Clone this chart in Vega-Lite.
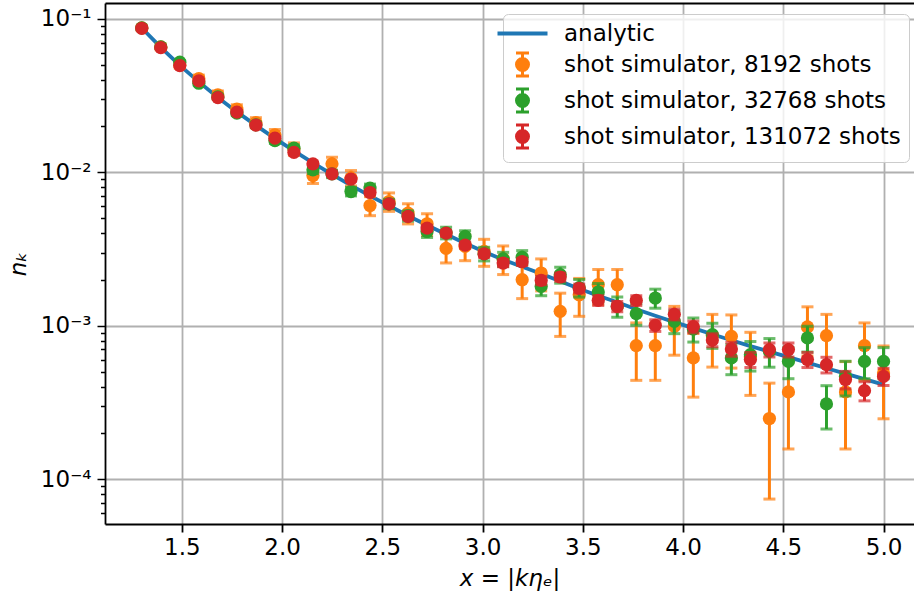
{
  "$schema": "https://vega.github.io/schema/vega-lite/v6.json",
  "width": 809,
  "height": 521,
  "autosize": {"type": "none"},
  "padding": {"left": 105, "top": 3, "right": 0, "bottom": 70},
  "background": "white",
  "config": {
    "view": {"stroke": null},
    "font": "DejaVu Sans"
  },
  "datasets": {
    "analytic": [
      {"x": 1.3, "y": 0.08737, "series": "analytic"},
      {"x": 1.39487, "y": 0.06522, "series": "analytic"},
      {"x": 1.48974, "y": 0.0498, "series": "analytic"},
      {"x": 1.58462, "y": 0.03887, "series": "analytic"},
      {"x": 1.67949, "y": 0.0308, "series": "analytic"},
      {"x": 1.77436, "y": 0.02477, "series": "analytic"},
      {"x": 1.86923, "y": 0.02024, "series": "analytic"},
      {"x": 1.9641, "y": 0.01665, "series": "analytic"},
      {"x": 2.05897, "y": 0.0138, "series": "analytic"},
      {"x": 2.15385, "y": 0.01153, "series": "analytic"},
      {"x": 2.24872, "y": 0.009705, "series": "analytic"},
      {"x": 2.34359, "y": 0.008228, "series": "analytic"},
      {"x": 2.43846, "y": 0.007028, "series": "analytic"},
      {"x": 2.53333, "y": 0.006049, "series": "analytic"},
      {"x": 2.62821, "y": 0.005206, "series": "analytic"},
      {"x": 2.72308, "y": 0.004516, "series": "analytic"},
      {"x": 2.81795, "y": 0.003945, "series": "analytic"},
      {"x": 2.91282, "y": 0.003447, "series": "analytic"},
      {"x": 3.00769, "y": 0.003034, "series": "analytic"},
      {"x": 3.10256, "y": 0.002692, "series": "analytic"},
      {"x": 3.19744, "y": 0.002423, "series": "analytic"},
      {"x": 3.29231, "y": 0.002182, "series": "analytic"},
      {"x": 3.38718, "y": 0.00195, "series": "analytic"},
      {"x": 3.48205, "y": 0.001742, "series": "analytic"},
      {"x": 3.57692, "y": 0.001568, "series": "analytic"},
      {"x": 3.67179, "y": 0.001422, "series": "analytic"},
      {"x": 3.76667, "y": 0.001281, "series": "analytic"},
      {"x": 3.86154, "y": 0.001162, "series": "analytic"},
      {"x": 3.95641, "y": 0.001054, "series": "analytic"},
      {"x": 4.05128, "y": 0.000963, "series": "analytic"},
      {"x": 4.14615, "y": 0.00088, "series": "analytic"},
      {"x": 4.24103, "y": 0.000804, "series": "analytic"},
      {"x": 4.3359, "y": 0.000735, "series": "analytic"},
      {"x": 4.43077, "y": 0.000677, "series": "analytic"},
      {"x": 4.52564, "y": 0.000623, "series": "analytic"},
      {"x": 4.62051, "y": 0.000574, "series": "analytic"},
      {"x": 4.71538, "y": 0.000528, "series": "analytic"},
      {"x": 4.81026, "y": 0.000487, "series": "analytic"},
      {"x": 4.90513, "y": 0.000448, "series": "analytic"},
      {"x": 5.0, "y": 0.000413, "series": "analytic"}
    ],
    "s8192": [
      {"x": 1.3, "y": 0.0874, "err": 0.00327, "series": "shot simulator, 8192 shots"},
      {"x": 1.39487, "y": 0.0657, "err": 0.00283, "series": "shot simulator, 8192 shots"},
      {"x": 1.48974, "y": 0.05017, "err": 0.00248, "series": "shot simulator, 8192 shots"},
      {"x": 1.58462, "y": 0.04083, "err": 0.00223, "series": "shot simulator, 8192 shots"},
      {"x": 1.67949, "y": 0.03198, "err": 0.00198, "series": "shot simulator, 8192 shots"},
      {"x": 1.77436, "y": 0.0258, "err": 0.00178, "series": "shot simulator, 8192 shots"},
      {"x": 1.86923, "y": 0.0211, "err": 0.00161, "series": "shot simulator, 8192 shots"},
      {"x": 1.9641, "y": 0.01755, "err": 0.00146, "series": "shot simulator, 8192 shots"},
      {"x": 2.05897, "y": 0.01423, "err": 0.00132, "series": "shot simulator, 8192 shots"},
      {"x": 2.15385, "y": 0.009532, "err": 0.00108, "series": "shot simulator, 8192 shots"},
      {"x": 2.24872, "y": 0.01136, "err": 0.00118, "series": "shot simulator, 8192 shots"},
      {"x": 2.34359, "y": 0.009209, "err": 0.00106, "series": "shot simulator, 8192 shots"},
      {"x": 2.43846, "y": 0.006076, "err": 0.000861, "series": "shot simulator, 8192 shots"},
      {"x": 2.53333, "y": 0.006451, "err": 0.000887, "series": "shot simulator, 8192 shots"},
      {"x": 2.62821, "y": 0.005423, "err": 0.000814, "series": "shot simulator, 8192 shots"},
      {"x": 2.72308, "y": 0.004618, "err": 0.000751, "series": "shot simulator, 8192 shots"},
      {"x": 2.81795, "y": 0.003189, "err": 0.000624, "series": "shot simulator, 8192 shots"},
      {"x": 2.91282, "y": 0.003286, "err": 0.000633, "series": "shot simulator, 8192 shots"},
      {"x": 3.00769, "y": 0.003048, "err": 0.00061, "series": "shot simulator, 8192 shots"},
      {"x": 3.10256, "y": 0.002732, "err": 0.000578, "series": "shot simulator, 8192 shots"},
      {"x": 3.19744, "y": 0.001994, "err": 0.000493, "series": "shot simulator, 8192 shots"},
      {"x": 3.29231, "y": 0.002205, "err": 0.000519, "series": "shot simulator, 8192 shots"},
      {"x": 3.38718, "y": 0.00124, "err": 0.000389, "series": "shot simulator, 8192 shots"},
      {"x": 3.48205, "y": 0.001592, "err": 0.000441, "series": "shot simulator, 8192 shots"},
      {"x": 3.57692, "y": 0.00185, "err": 0.000475, "series": "shot simulator, 8192 shots"},
      {"x": 3.67179, "y": 0.00185, "err": 0.000475, "series": "shot simulator, 8192 shots"},
      {"x": 3.76667, "y": 0.000741, "err": 0.000301, "series": "shot simulator, 8192 shots"},
      {"x": 3.86154, "y": 0.000741, "err": 0.000301, "series": "shot simulator, 8192 shots"},
      {"x": 3.95641, "y": 0.000989, "err": 0.000347, "series": "shot simulator, 8192 shots"},
      {"x": 4.05128, "y": 0.000616, "err": 0.000274, "series": "shot simulator, 8192 shots"},
      {"x": 4.14615, "y": 0.000861, "err": 0.000324, "series": "shot simulator, 8192 shots"},
      {"x": 4.24103, "y": 0.000852, "err": 0.000323, "series": "shot simulator, 8192 shots"},
      {"x": 4.3359, "y": 0.000628, "err": 0.000277, "series": "shot simulator, 8192 shots"},
      {"x": 4.43077, "y": 0.000248, "err": 0.000174, "series": "shot simulator, 8192 shots"},
      {"x": 4.52564, "y": 0.00037, "err": 0.000213, "series": "shot simulator, 8192 shots"},
      {"x": 4.62051, "y": 0.000981, "err": 0.000346, "series": "shot simulator, 8192 shots"},
      {"x": 4.71538, "y": 0.000861, "err": 0.000324, "series": "shot simulator, 8192 shots"},
      {"x": 4.81026, "y": 0.00037, "err": 0.000213, "series": "shot simulator, 8192 shots"},
      {"x": 4.90513, "y": 0.000741, "err": 0.000301, "series": "shot simulator, 8192 shots"},
      {"x": 5.0, "y": 0.000492, "err": 0.000245, "series": "shot simulator, 8192 shots"}
    ],
    "s32768": [
      {"x": 1.3, "y": 0.0874, "err": 0.00163, "series": "shot simulator, 32768 shots"},
      {"x": 1.39487, "y": 0.0657, "err": 0.00142, "series": "shot simulator, 32768 shots"},
      {"x": 1.48974, "y": 0.05223, "err": 0.00126, "series": "shot simulator, 32768 shots"},
      {"x": 1.58462, "y": 0.03812, "err": 0.00108, "series": "shot simulator, 32768 shots"},
      {"x": 1.67949, "y": 0.03103, "err": 0.000973, "series": "shot simulator, 32768 shots"},
      {"x": 1.77436, "y": 0.0243, "err": 0.000861, "series": "shot simulator, 32768 shots"},
      {"x": 1.86923, "y": 0.02039, "err": 0.000789, "series": "shot simulator, 32768 shots"},
      {"x": 1.9641, "y": 0.01611, "err": 0.000701, "series": "shot simulator, 32768 shots"},
      {"x": 2.05897, "y": 0.01438, "err": 0.000662, "series": "shot simulator, 32768 shots"},
      {"x": 2.15385, "y": 0.01038, "err": 0.000563, "series": "shot simulator, 32768 shots"},
      {"x": 2.24872, "y": 0.009777, "err": 0.000546, "series": "shot simulator, 32768 shots"},
      {"x": 2.34359, "y": 0.007496, "err": 0.000478, "series": "shot simulator, 32768 shots"},
      {"x": 2.43846, "y": 0.007889, "err": 0.000491, "series": "shot simulator, 32768 shots"},
      {"x": 2.53333, "y": 0.006233, "err": 0.000436, "series": "shot simulator, 32768 shots"},
      {"x": 2.62821, "y": 0.005206, "err": 0.000399, "series": "shot simulator, 32768 shots"},
      {"x": 2.72308, "y": 0.004114, "err": 0.000354, "series": "shot simulator, 32768 shots"},
      {"x": 2.81795, "y": 0.004034, "err": 0.000351, "series": "shot simulator, 32768 shots"},
      {"x": 2.91282, "y": 0.003817, "err": 0.000341, "series": "shot simulator, 32768 shots"},
      {"x": 3.00769, "y": 0.002944, "err": 0.0003, "series": "shot simulator, 32768 shots"},
      {"x": 3.10256, "y": 0.002719, "err": 0.000288, "series": "shot simulator, 32768 shots"},
      {"x": 3.19744, "y": 0.002794, "err": 0.000292, "series": "shot simulator, 32768 shots"},
      {"x": 3.29231, "y": 0.001803, "err": 0.000235, "series": "shot simulator, 32768 shots"},
      {"x": 3.38718, "y": 0.002149, "err": 0.000256, "series": "shot simulator, 32768 shots"},
      {"x": 3.48205, "y": 0.001768, "err": 0.000232, "series": "shot simulator, 32768 shots"},
      {"x": 3.57692, "y": 0.001658, "err": 0.000225, "series": "shot simulator, 32768 shots"},
      {"x": 3.67179, "y": 0.001335, "err": 0.000202, "series": "shot simulator, 32768 shots"},
      {"x": 3.76667, "y": 0.001197, "err": 0.000191, "series": "shot simulator, 32768 shots"},
      {"x": 3.86154, "y": 0.001515, "err": 0.000215, "series": "shot simulator, 32768 shots"},
      {"x": 3.95641, "y": 0.001067, "err": 0.00018, "series": "shot simulator, 32768 shots"},
      {"x": 4.05128, "y": 0.000952, "err": 0.00017, "series": "shot simulator, 32768 shots"},
      {"x": 4.14615, "y": 0.000874, "err": 0.000163, "series": "shot simulator, 32768 shots"},
      {"x": 4.24103, "y": 0.000616, "err": 0.000137, "series": "shot simulator, 32768 shots"},
      {"x": 4.3359, "y": 0.000647, "err": 0.000141, "series": "shot simulator, 32768 shots"},
      {"x": 4.43077, "y": 0.00068, "err": 0.000144, "series": "shot simulator, 32768 shots"},
      {"x": 4.52564, "y": 0.000585, "err": 0.000134, "series": "shot simulator, 32768 shots"},
      {"x": 4.62051, "y": 0.000832, "err": 0.000159, "series": "shot simulator, 32768 shots"},
      {"x": 4.71538, "y": 0.000309, "err": 0.0000971, "series": "shot simulator, 32768 shots"},
      {"x": 4.81026, "y": 0.000467, "err": 0.000119, "series": "shot simulator, 32768 shots"},
      {"x": 4.90513, "y": 0.000585, "err": 0.000134, "series": "shot simulator, 32768 shots"},
      {"x": 5.0, "y": 0.000585, "err": 0.000134, "series": "shot simulator, 32768 shots"}
    ],
    "s131072": [
      {"x": 1.3, "y": 0.08696, "err": 0.000815, "series": "shot simulator, 131072 shots"},
      {"x": 1.39487, "y": 0.06501, "err": 0.000704, "series": "shot simulator, 131072 shots"},
      {"x": 1.48974, "y": 0.04964, "err": 0.000615, "series": "shot simulator, 131072 shots"},
      {"x": 1.58462, "y": 0.03945, "err": 0.000549, "series": "shot simulator, 131072 shots"},
      {"x": 1.67949, "y": 0.03071, "err": 0.000484, "series": "shot simulator, 131072 shots"},
      {"x": 1.77436, "y": 0.02467, "err": 0.000434, "series": "shot simulator, 131072 shots"},
      {"x": 1.86923, "y": 0.0203, "err": 0.000394, "series": "shot simulator, 131072 shots"},
      {"x": 1.9641, "y": 0.0167, "err": 0.000357, "series": "shot simulator, 131072 shots"},
      {"x": 2.05897, "y": 0.0135, "err": 0.000321, "series": "shot simulator, 131072 shots"},
      {"x": 2.15385, "y": 0.01136, "err": 0.000294, "series": "shot simulator, 131072 shots"},
      {"x": 2.24872, "y": 0.009777, "err": 0.000273, "series": "shot simulator, 131072 shots"},
      {"x": 2.34359, "y": 0.00903, "err": 0.000262, "series": "shot simulator, 131072 shots"},
      {"x": 2.43846, "y": 0.007385, "err": 0.000237, "series": "shot simulator, 131072 shots"},
      {"x": 2.53333, "y": 0.006233, "err": 0.000218, "series": "shot simulator, 131072 shots"},
      {"x": 2.62821, "y": 0.005153, "err": 0.000198, "series": "shot simulator, 131072 shots"},
      {"x": 2.72308, "y": 0.00433, "err": 0.000182, "series": "shot simulator, 131072 shots"},
      {"x": 2.81795, "y": 0.004016, "err": 0.000175, "series": "shot simulator, 131072 shots"},
      {"x": 2.91282, "y": 0.003355, "err": 0.00016, "series": "shot simulator, 131072 shots"},
      {"x": 3.00769, "y": 0.002936, "err": 0.00015, "series": "shot simulator, 131072 shots"},
      {"x": 3.10256, "y": 0.002562, "err": 0.00014, "series": "shot simulator, 131072 shots"},
      {"x": 3.19744, "y": 0.002612, "err": 0.000141, "series": "shot simulator, 131072 shots"},
      {"x": 3.29231, "y": 0.001973, "err": 0.000123, "series": "shot simulator, 131072 shots"},
      {"x": 3.38718, "y": 0.002077, "err": 0.000126, "series": "shot simulator, 131072 shots"},
      {"x": 3.48205, "y": 0.00175, "err": 0.000116, "series": "shot simulator, 131072 shots"},
      {"x": 3.57692, "y": 0.001461, "err": 0.000106, "series": "shot simulator, 131072 shots"},
      {"x": 3.67179, "y": 0.001335, "err": 0.000101, "series": "shot simulator, 131072 shots"},
      {"x": 3.76667, "y": 0.001461, "err": 0.000106, "series": "shot simulator, 131072 shots"},
      {"x": 3.86154, "y": 0.001005, "err": 0.0000876, "series": "shot simulator, 131072 shots"},
      {"x": 3.95641, "y": 0.001185, "err": 0.0000951, "series": "shot simulator, 131072 shots"},
      {"x": 4.05128, "y": 0.000985, "err": 0.0000867, "series": "shot simulator, 131072 shots"},
      {"x": 4.14615, "y": 0.000807, "err": 0.0000785, "series": "shot simulator, 131072 shots"},
      {"x": 4.24103, "y": 0.000705, "err": 0.0000733, "series": "shot simulator, 131072 shots"},
      {"x": 4.3359, "y": 0.000601, "err": 0.0000677, "series": "shot simulator, 131072 shots"},
      {"x": 4.43077, "y": 0.000698, "err": 0.000073, "series": "shot simulator, 131072 shots"},
      {"x": 4.52564, "y": 0.000698, "err": 0.000073, "series": "shot simulator, 131072 shots"},
      {"x": 4.62051, "y": 0.000601, "err": 0.0000677, "series": "shot simulator, 131072 shots"},
      {"x": 4.71538, "y": 0.000557, "err": 0.0000652, "series": "shot simulator, 131072 shots"},
      {"x": 4.81026, "y": 0.000445, "err": 0.0000583, "series": "shot simulator, 131072 shots"},
      {"x": 4.90513, "y": 0.000377, "err": 0.0000536, "series": "shot simulator, 131072 shots"},
      {"x": 5.0, "y": 0.000467, "err": 0.0000597, "series": "shot simulator, 131072 shots"}
    ]
  },
  "resolve": {"axis": {"x": "independent"}},
  "layer": [
    {
      "data": {"name": "analytic"},
      "mark": {"type": "line", "strokeWidth": 3.8},
      "encoding": {
        "x": {
          "field": "x", "type": "quantitative",
          "scale": {"domain": [1.1165, 5.152], "nice": false, "zero": false},
          "axis": {
            "orient": "bottom",
            "values": [1.5, 2.0, 2.5, 3.0, 3.5, 4.0, 4.5, 5.0],
            "format": ".1f",
            "title": "x = |kηₑ|",
            "titleFont": "DejaVu Sans", "titleFontSize": 23, "titleFontStyle": "italic", "titleFontWeight": "normal", "titleColor": "black", "titlePadding": 8,
            "labelFont": "DejaVu Sans", "labelFontSize": 23, "labelColor": "black", "labelPadding": 4,
            "labelFlush": false, "labelOverlap": false,
            "grid": true, "gridColor": "#b0b0b0", "gridWidth": 1.8,
            "ticks": true, "tickSize": 8, "tickWidth": 1.8, "tickColor": "black",
            "domain": true, "domainColor": "black", "domainWidth": 1.8
          }
        },
        "y": {
          "field": "y", "type": "quantitative", "title": "nₖ",
          "scale": {"type": "log", "domain": [0.0000509, 0.1271], "nice": false},
          "axis": {
            "orient": "left",
            "values": [0.00006, 0.00007, 0.00008, 0.00009, 0.0001, 0.0002, 0.0003, 0.0004, 0.0005, 0.0006, 0.0007, 0.0008, 0.0009, 0.001, 0.002, 0.003, 0.004, 0.005, 0.006, 0.007, 0.008, 0.009, 0.01, 0.02, 0.03, 0.04, 0.05, 0.06, 0.07, 0.08, 0.09, 0.1],
            "labelExpr": "datum.value == 0.1 ? '10⁻¹' : datum.value == 0.01 ? '10⁻²' : datum.value == 0.001 ? '10⁻³' : datum.value == 0.0001 ? '10⁻⁴' : ''",
            "title": "nₖ",
            "titleFont": "DejaVu Sans", "titleFontSize": 23, "titleFontStyle": "italic", "titleFontWeight": "normal", "titleColor": "black", "titlePadding": 10,
            "labelFont": "DejaVu Sans", "labelFontSize": 23, "labelColor": "black", "labelPadding": 6,
            "labelFlush": false, "labelOverlap": false, "labelBound": false,
            "grid": true, "gridColor": "#b0b0b0", "gridWidth": 1.8,
            "gridOpacity": {"condition": {"test": "datum.value == 0.1 || datum.value == 0.01 || datum.value == 0.001 || datum.value == 0.0001", "value": 1}, "value": 0},
            "ticks": true,
            "tickSize": {"condition": {"test": "datum.value == 0.1 || datum.value == 0.01 || datum.value == 0.001 || datum.value == 0.0001", "value": 8}, "value": 4.5},
            "tickWidth": 1.5, "tickColor": "black",
            "domain": true, "domainColor": "black", "domainWidth": 1.8
          }
        },
        "color": {
          "field": "series", "type": "nominal",
          "scale": {
            "domain": ["analytic", "shot simulator, 8192 shots", "shot simulator, 32768 shots", "shot simulator, 131072 shots"],
            "range": ["#1f77b4", "#ff7f0e", "#2ca02c", "#d62728"]
          },
          "legend": {
            "title": null,
            "orient": "none",
            "legendX": 398,
            "legendY": 11,
            "labelFont": "DejaVu Sans", "labelFontSize": 23, "labelColor": "black", "labelLimit": 600,
            "labelOffset": 30,
            "fillColor": "rgba(255,255,255,0.8)", "strokeColor": "#cccccc", "cornerRadius": 5,
            "padding": 8, "rowPadding": 1,
            "symbolSize": 400,
            "encode": {
              "symbols": {
                "update": {
                  "shape": {"signal": "datum.value === 'analytic' ? 'M-2.5,0H2.5' : 'M0.6,0A0.6,0.6,0,1,1,-0.6,0A0.6,0.6,0,1,1,0.6,0ZM0,-1.15V1.15M-0.65,-1.15H0.65M-0.65,1.15H0.65'"},
                  "size": {"value": 400},
                  "stroke": {"signal": "scale('color', datum.value)"},
                  "fill": {"signal": "datum.value === 'analytic' ? 'transparent' : scale('color', datum.value)"},
                  "strokeWidth": {"signal": "datum.value === 'analytic' ? 4 : 3"},
                  "opacity": {"value": 1},
                  "fillOpacity": {"value": 1},
                  "strokeOpacity": {"value": 1}
                }
              }
            }
          }
        }
      }
    },
    {
      "data": {"name": "s8192"},
      "mark": {"type": "errorbar", "color": "#ff7f0e", "thickness": 3, "ticks": {"size": 12, "thickness": 3, "color": "#ff7f0e"}},
      "encoding": {
        "x": {"field": "x", "type": "quantitative", "axis": null},
        "y": {"field": "y", "type": "quantitative", "title": "nₖ", "scale": {"type": "log", "domain": [0.0000509, 0.1271], "nice": false}},
        "yError": {"field": "err"}
      }
    },
    {
      "data": {"name": "s8192"},
      "mark": {"type": "circle", "size": 175, "opacity": 1},
      "encoding": {
        "x": {"field": "x", "type": "quantitative", "axis": {"orient": "top", "labels": false, "ticks": false, "grid": false, "title": null, "domain": true, "domainColor": "black", "domainWidth": 1.8}},
        "y": {"field": "y", "type": "quantitative", "title": "nₖ", "scale": {"type": "log", "domain": [0.0000509, 0.1271], "nice": false}},
        "color": {"field": "series", "type": "nominal"}
      }
    },
    {
      "data": {"name": "s32768"},
      "mark": {"type": "errorbar", "color": "#2ca02c", "thickness": 3, "ticks": {"size": 12, "thickness": 3, "color": "#2ca02c"}},
      "encoding": {
        "x": {"field": "x", "type": "quantitative", "axis": null},
        "y": {"field": "y", "type": "quantitative", "title": "nₖ", "scale": {"type": "log", "domain": [0.0000509, 0.1271], "nice": false}},
        "yError": {"field": "err"}
      }
    },
    {
      "data": {"name": "s32768"},
      "mark": {"type": "circle", "size": 175, "opacity": 1},
      "encoding": {
        "x": {"field": "x", "type": "quantitative", "axis": null},
        "y": {"field": "y", "type": "quantitative", "title": "nₖ", "scale": {"type": "log", "domain": [0.0000509, 0.1271], "nice": false}},
        "color": {"field": "series", "type": "nominal"}
      }
    },
    {
      "data": {"name": "s131072"},
      "mark": {"type": "errorbar", "color": "#d62728", "thickness": 3, "ticks": {"size": 12, "thickness": 3, "color": "#d62728"}},
      "encoding": {
        "x": {"field": "x", "type": "quantitative", "axis": null},
        "y": {"field": "y", "type": "quantitative", "title": "nₖ", "scale": {"type": "log", "domain": [0.0000509, 0.1271], "nice": false}},
        "yError": {"field": "err"}
      }
    },
    {
      "data": {"name": "s131072"},
      "mark": {"type": "circle", "size": 175, "opacity": 1},
      "encoding": {
        "x": {"field": "x", "type": "quantitative", "axis": null},
        "y": {"field": "y", "type": "quantitative", "title": "nₖ", "scale": {"type": "log", "domain": [0.0000509, 0.1271], "nice": false}},
        "color": {"field": "series", "type": "nominal"}
      }
    }
  ]
}
